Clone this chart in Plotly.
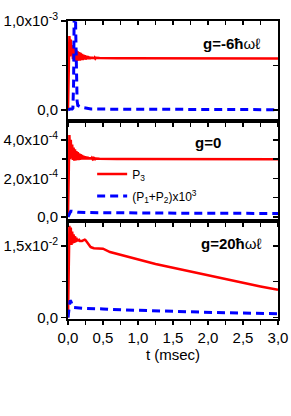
import plotly.graph_objects as go

# time axis (msec)
t = [0.00, 0.01, 0.02, 0.03, 0.04, 0.05, 0.06, 0.07, 0.08, 0.09,
     0.10, 0.11, 0.12, 0.13, 0.14, 0.15, 0.16, 0.17, 0.18, 0.19,
     0.20, 0.21, 0.22, 0.23, 0.24, 0.25, 0.26, 0.27, 0.28, 0.29,
     0.30, 0.31, 0.32, 0.33, 0.34, 0.35, 0.36, 0.37, 0.38, 0.39,
     0.40,
     0.45, 0.5, 0.6, 0.7, 0.8, 0.9, 1.0, 1.25, 1.5, 1.75, 2.0, 2.25, 2.5, 2.75, 3.0]

# g = -6 (values in units of 1e-3)
p3_top = [0, 0.45, 0.83, 0.60, 0.79, 0.62, 0.73, 0.57, 0.71, 0.56,
          0.69, 0.55, 0.67, 0.55, 0.66, 0.555, 0.65, 0.555, 0.64, 0.56,
          0.63, 0.56, 0.62, 0.565, 0.615, 0.565, 0.61, 0.57, 0.605, 0.57,
          0.60, 0.572, 0.597, 0.574, 0.594, 0.575, 0.591, 0.576, 0.589, 0.577,
          0.587,
          0.583, 0.581, 0.58, 0.58, 0.58, 0.58, 0.58, 0.579, 0.579, 0.578, 0.578, 0.578, 0.577, 0.577, 0.577]
p12_top = [0, 0.0, 0.005, 0.01, 0.01, 0.01, 0.01, 0.02, 0.3, 1.3,
           1.5, 0.9, 0.35, 0.1, 0.05, 0.045, 0.04, 0.037, 0.034, 0.031,
           0.028, 0.026, 0.024, 0.022, 0.02, 0.018, 0.017, 0.016, 0.015, 0.014,
           0.013, 0.012, 0.011, 0.010, 0.009, 0.009, 0.008, 0.008, 0.007, 0.007,
           0.006,
           0.005, 0.004, 0.003, 0.003, 0.002, 0.002, 0.002, 0.002, 0.002, 0.002, 0.002, 0.002, 0.002, 0.002, 0.002]

# g = 0 (values in units of 1e-4)
p3_mid = [0, 2.6, 4.25, 3.0, 4.0, 3.05, 3.75, 2.95, 3.6, 2.92,
          3.5, 2.93, 3.42, 2.94, 3.36, 2.95, 3.3, 2.96, 3.25, 2.97,
          3.21, 2.97, 3.18, 2.98, 3.15, 2.98, 3.13, 2.99, 3.11, 2.99,
          3.09, 2.99, 3.08, 3.0, 3.06, 3.0, 3.05, 3.0, 3.04, 3.0,
          3.03,
          3.02, 3.01, 3.0, 3.0, 3.0, 3.0, 3.0, 3.0, 2.99, 2.99, 2.99, 2.99, 2.99, 2.99, 2.99]
p12_mid = [0, 0.1, 0.2, 0.27, 0.3, 0.3, 0.29, 0.28, 0.27, 0.26,
           0.26, 0.255, 0.25, 0.25, 0.245, 0.245, 0.24, 0.24, 0.24, 0.235,
           0.235, 0.235, 0.23, 0.23, 0.23, 0.23, 0.228, 0.228, 0.226, 0.226,
           0.225, 0.225, 0.224, 0.224, 0.223, 0.223, 0.222, 0.222, 0.221, 0.221,
           0.22,
           0.22, 0.22, 0.215, 0.21, 0.21, 0.205, 0.2, 0.2, 0.195, 0.19, 0.19, 0.185, 0.18, 0.18, 0.18]

# g = 20 (values in units of 1e-2)
p3_bot = [0, 1.0, 1.92, 1.55, 1.88, 1.52, 1.8, 1.55, 1.74, 1.56,
          1.7, 1.58, 1.67, 1.59, 1.64, 1.6, 1.62, 1.6, 1.6, 1.59,
          1.6, 1.61, 1.62, 1.63, 1.63, 1.62, 1.6, 1.57, 1.54, 1.52,
          1.5, 1.49, 1.48, 1.47, 1.46, 1.46, 1.455, 1.45, 1.45, 1.45,
          1.45,
          1.45, 1.44, 1.37, 1.33, 1.3, 1.26, 1.21, 1.12, 1.04, 0.96, 0.88, 0.8, 0.73, 0.65, 0.58]
p12_bot = [0, 0.15, 0.3, 0.36, 0.34, 0.28, 0.24, 0.22, 0.21, 0.21,
           0.205, 0.205, 0.2, 0.2, 0.2, 0.2, 0.2, 0.198, 0.198, 0.196,
           0.196, 0.195, 0.195, 0.194, 0.194, 0.193, 0.193, 0.192, 0.192, 0.191,
           0.19, 0.19, 0.189, 0.188, 0.188, 0.187, 0.186, 0.186, 0.185, 0.184,
           0.184,
           0.182, 0.18, 0.17, 0.165, 0.16, 0.155, 0.15, 0.14, 0.13, 0.12, 0.11, 0.1, 0.095, 0.088, 0.08]

x_tickvals = [0, 0.5, 1.0, 1.5, 2.0, 2.5, 3.0]
x_ticktext = ["0,0", "0,5", "1,0", "1,5", "2,0", "2,5", "3,0"]

panel_labels = ["g=-6ħ", "g=0", "g=20ħ"]
panel_suffix = ["ωℓ", "", "ωℓ"]
legend_names = ["P<sub>3</sub>", "(P<sub>1</sub>+P<sub>2</sub>)x10<sup>3</sup>"]

RED = "#ff0000"
BLUE = "#0000ff"
FONT = "Liberation Sans, Arial, sans-serif"

fig = go.Figure()

series = [("x", "y", p3_bot, p12_bot, False),
          ("x2", "y2", p3_mid, p12_mid, True),
          ("x3", "y3", p3_top, p12_top, False)]
for xa, ya, p3, p12, show in series:
    fig.add_trace(go.Scatter(x=t, y=p3, xaxis=xa, yaxis=ya, mode="lines",
                             line=dict(color=RED, width=2.5), name=legend_names[0],
                             legendgroup="p3", showlegend=show))
    fig.add_trace(go.Scatter(x=t, y=p12, xaxis=xa, yaxis=ya, mode="lines",
                             line=dict(color=BLUE, width=3, dash="8px,5px"), name=legend_names[1],
                             legendgroup="p12", showlegend=show))

# dummy traces to register overlay axes
fig.add_trace(go.Scatter(x=[], y=[], xaxis="x4", yaxis="y3", showlegend=False))
fig.add_trace(go.Scatter(x=[], y=[], xaxis="x", yaxis="y4", showlegend=False))
fig.add_trace(go.Scatter(x=[], y=[], xaxis="x2", yaxis="y5", showlegend=False))
fig.add_trace(go.Scatter(x=[], y=[], xaxis="x3", yaxis="y6", showlegend=False))

tickfont = dict(family=FONT, size=15, color="black")
xcommon = dict(range=[0, 3], showline=True, linewidth=2, linecolor="black",
               ticks="outside", ticklen=4, tickwidth=1.5, tickcolor="black",
               tickvals=x_tickvals, ticktext=x_ticktext,
               minor=dict(dtick=0.25, tick0=0, ticks="outside", ticklen=4, tickwidth=1.5, tickcolor="black"),
               showgrid=False, zeroline=False, mirror=True, tickfont=tickfont, automargin=False)

ycommon = dict(ticks="outside", ticklen=5, tickwidth=1.5, tickcolor="black",
               showline=True, linewidth=2, linecolor="black", showgrid=False, zeroline=False,
               tickfont=tickfont, automargin=False)
yright = dict(side="right", ticks="inside", ticklen=5, tickwidth=1.5, tickcolor="black",
              showticklabels=False, showline=True, linewidth=2, linecolor="black",
              showgrid=False, zeroline=False, automargin=False)

dom_bot = [0, 0.329]
dom_mid = [0.329, 0.666]
dom_top = [0.666, 1]

fig.update_layout(
    width=291, height=416,
    margin=dict(l=68, r=13, t=21, b=97, autoexpand=False),
    paper_bgcolor="white", plot_bgcolor="white",
    font=dict(family=FONT, color="black"),
    xaxis=dict(**xcommon, anchor="y", showticklabels=True,
               title=dict(text="t (msec)", font=dict(family=FONT, size=15), standoff=3)),
    xaxis2=dict(**xcommon, anchor="y2", showticklabels=False),
    xaxis3=dict(**xcommon, anchor="y3", showticklabels=False),
    xaxis4=dict(range=[0, 3], overlaying="x3", anchor="y3", side="top", showline=False,
                ticks="inside", ticklen=4, tickwidth=1.5, tickcolor="black",
                tickvals=[0.25, 0.5, 0.75, 1.0, 1.25, 1.5, 1.75, 2.0, 2.25, 2.5, 2.75],
                showticklabels=False, showgrid=False, zeroline=False, automargin=False),
    yaxis=dict(domain=dom_bot, anchor="x", range=[-0.03, 2.02],
               tickvals=[0, 1.5], ticktext=["0,0", "1,5x10<sup>-2</sup>"],
               minor=dict(tickvals=[0.75], ticks="outside", ticklen=4, tickwidth=1.5, tickcolor="black"),
               **ycommon),
    yaxis2=dict(domain=dom_mid, anchor="x2", range=[-0.21, 5.0],
                tickvals=[0, 2, 4], ticktext=["0,0", "2,0x10<sup>-4</sup>", "4,0x10<sup>-4</sup>"],
                minor=dict(tickvals=[1, 3], ticks="outside", ticklen=4, tickwidth=1.5, tickcolor="black"),
                **ycommon),
    yaxis3=dict(domain=dom_top, anchor="x3", range=[-0.12, 1.0],
                tickvals=[0, 1.0], ticktext=["0,0", "1,0x10<sup>-3</sup>"],
                minor=dict(tickvals=[0.5], ticks="outside", ticklen=4, tickwidth=1.5, tickcolor="black"),
                **ycommon),
    yaxis4=dict(overlaying="y", anchor="x", range=[-0.03, 2.02], tickvals=[0, 0.75, 1.5], **yright),
    yaxis5=dict(overlaying="y2", anchor="x2", range=[-0.21, 5.0], tickvals=[0, 1, 2, 3, 4], **yright),
    yaxis6=dict(overlaying="y3", anchor="x3", range=[-0.12, 1.0], tickvals=[0, 0.5, 1.0], **yright),
    legend=dict(x=0.115, y=0.535, xanchor="left", yanchor="top",
                bgcolor="rgba(0,0,0,0)", font=dict(family=FONT, size=12),
                traceorder="grouped", tracegroupgap=3, itemwidth=30),
    showlegend=True,
)

ann_pos = [(0.924, 0.926, "right"), (0.667, 0.591, "center"), (0.93, 0.255, "right")]
for (ax_, ay_, anc), txt, suf in zip(ann_pos, panel_labels, panel_suffix):
    fig.add_annotation(x=ax_, y=ay_, xref="paper", yref="paper", xanchor=anc, yanchor="middle",
                       text="<b>" + txt + "</b>" + suf, showarrow=False,
                       font=dict(family=FONT, size=15, color="black"))

# remove the browser's default page margin so the figure fills the window exactly
fig.write_html("out.html", config={"displayModeBar": False, "staticPlot": True},
               post_script="document.body.style.margin='0';")
